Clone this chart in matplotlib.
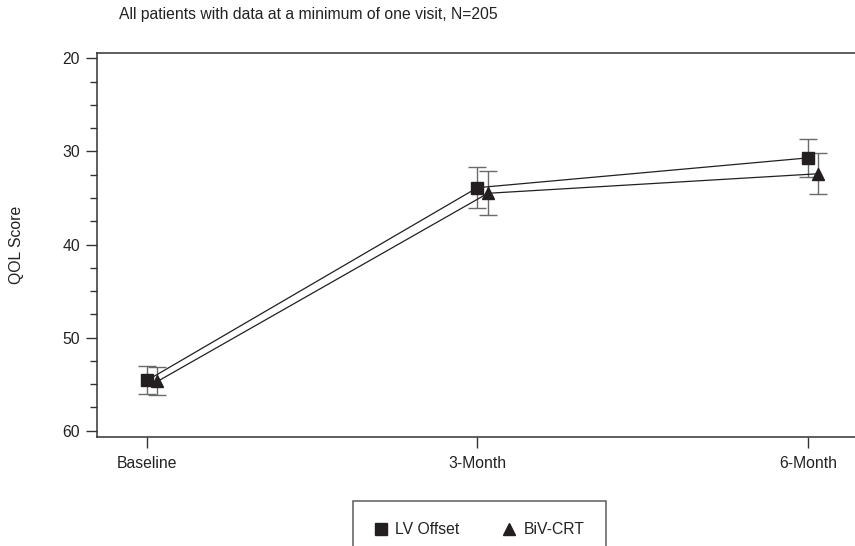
import matplotlib
matplotlib.use("Agg")
import matplotlib.pyplot as plt
from matplotlib.lines import Line2D
from matplotlib.ticker import MultipleLocator
import numpy as np

plt.rcParams['font.family'] = ['Liberation Sans', 'DejaVu Sans']

categories = ["Baseline", "3-Month", "6-Month"]
lv_offset = [54.6, 33.9, 30.7]
lv_err = [1.5, 2.2, 2.0]
biv_crt = [54.7, 34.5, 32.4]
biv_err = [1.5, 2.35, 2.2]
dodge = 0.032

fig = plt.figure(figsize=(8.55, 5.46), dpi=100)
ax = fig.add_axes([0.1131, 0.2002, 0.8869, 0.7033])

x = np.arange(len(categories))
dark = '#231f20'
errc = '#6a6a6a'
fs = 11.3

for xs, ys, es, mk in [(x, lv_offset, lv_err, 's'), (x + dodge, biv_crt, biv_err, '^')]:
    ax.errorbar(xs, ys, yerr=es, fmt='none', ecolor=errc, elinewidth=1.0,
                capsize=6.5, capthick=1.0, zorder=2)
    ax.plot(xs, ys, color=dark, lw=0.9, zorder=3)
    ax.plot(xs, ys, linestyle='none', marker=mk, markersize=8.7,
            color=dark, zorder=4)

ax.set_xlim(-0.152, 2.143)
ax.set_ylim(60.64, 19.4)
ax.set_xticks(x)
ax.set_xticklabels(categories, fontsize=fs, color='#222222')
ax.yaxis.set_major_locator(MultipleLocator(10))
ax.yaxis.set_minor_locator(MultipleLocator(2.5))
ax.tick_params(axis='y', which='major', length=8, width=1.0, pad=4, labelsize=fs,
               colors='#333333', labelcolor='#222222')
ax.tick_params(axis='y', which='minor', length=5, width=1.0, colors='#333333')
ax.tick_params(axis='x', which='major', length=8, width=1.0, pad=6, labelsize=fs,
               colors='#333333', labelcolor='#222222')
ax.tick_params(axis='x', which='minor', length=0)

for s in ['left', 'bottom', 'top']:
    ax.spines[s].set_linewidth(1.1)
    ax.spines[s].set_color('#333333')
ax.spines['right'].set_visible(False)

fig.text(119 / 855, 1 - 15 / 546, "All patients with data at a minimum of one visit, N=205",
         fontsize=fs, color='#222222', ha='left', va='center')
fig.text(16 / 855, 1 - 245 / 546, "QOL Score", fontsize=fs, color='#222222',
         rotation=90, ha='center', va='center')

handles = [Line2D([], [], linestyle='none', marker='s', markersize=8, color=dark),
           Line2D([], [], linestyle='none', marker='^', markersize=8, color=dark)]
leg = fig.legend(handles, ["LV Offset", "BiV-CRT"], ncol=2, loc='upper center',
                 bbox_to_anchor=(479.4 / 855, 1 - 501 / 546), fontsize=fs,
                 frameon=True, fancybox=False, borderpad=1.35, handlelength=0.8,
                 handletextpad=0.5, columnspacing=2.8, borderaxespad=0)
leg.get_frame().set_edgecolor('#333333')
leg.get_frame().set_linewidth(1.1)
for t in leg.get_texts():
    t.set_color('#222222')

fig.savefig("out.png", dpi=100)
